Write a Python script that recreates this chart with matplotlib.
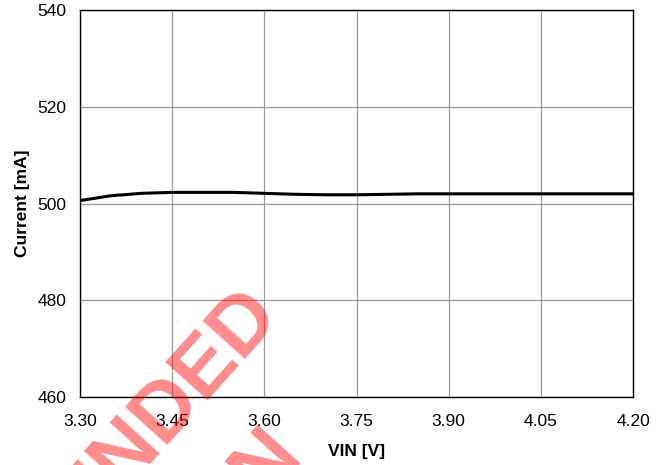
import numpy as np
import matplotlib.pyplot as plt

# Input current vs VIN
vin = [3.30, 3.35, 3.40, 3.45, 3.50, 3.55, 3.60, 3.65, 3.70, 3.75,
       3.80, 3.85, 3.90, 3.95, 4.00, 4.05, 4.10, 4.15, 4.20]
current = [500.6, 501.6, 502.1, 502.3, 502.3, 502.3, 502.1, 501.9, 501.8, 501.8,
           501.9, 502.0, 502.0, 502.0, 502.0, 502.0, 502.0, 502.0, 502.0]

xticks = [3.30, 3.45, 3.60, 3.75, 3.90, 4.05, 4.20]
yticks = [460, 480, 500, 520, 540]

plt.rcParams['font.family'] = ['Liberation Sans', 'DejaVu Sans']

fig = plt.figure(figsize=(6.63, 4.65), dpi=100)
ax = fig.add_axes([80/663, 1-397/465, 553/663, 387/465])

ax.plot(vin, current, color="black", lw=2.2, zorder=3)
ax.set_xlim(3.30, 4.20)
ax.set_ylim(460, 540)
ax.set_xticks(xticks)
ax.set_xticklabels(["%.2f" % v for v in xticks])
ax.set_yticks(yticks)
ax.grid(True, color="#999999", lw=0.9)
ax.tick_params(length=0, labelsize=12.5)
ax.tick_params(axis="x", pad=12)
ax.tick_params(axis="y", pad=10)
for s in ax.spines.values():
    s.set_color("black")
    s.set_linewidth(1.0)

ax.set_xlabel("VIN [V]", fontsize=12.5, fontweight="bold", labelpad=11)
ax.set_ylabel("Current [mA]", fontsize=12.5, fontweight="bold", labelpad=5)

# watermark, two lines
wm = dict(fontsize=60, fontweight="bold", color="red", alpha=0.45, rotation=48,
          rotation_mode="anchor", ha="right", va="baseline", zorder=10)
fig.text(0.425, 0.316, "NOT RECOMMENDED", **wm)
fig.text(0.46, 0.012, "FOR NEW DESIGN", **wm)

fig.savefig("out.png", dpi=100)
